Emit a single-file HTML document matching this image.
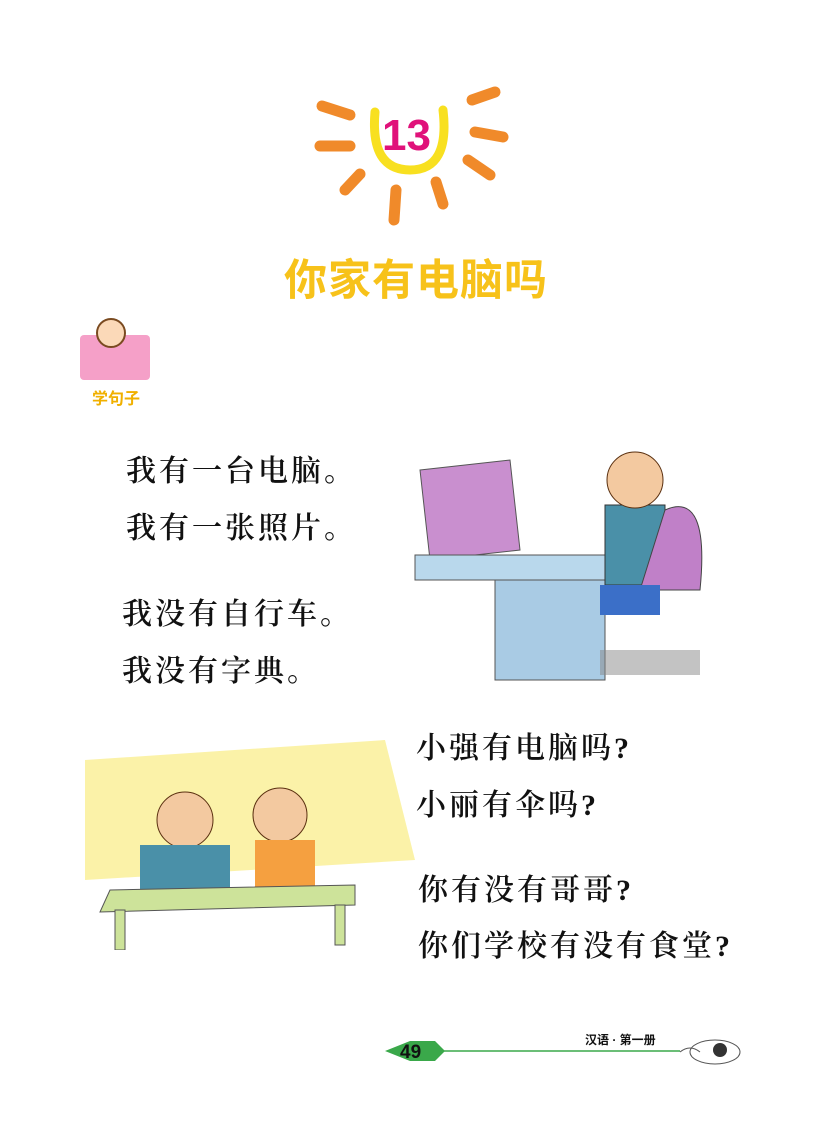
<!DOCTYPE html>
<html><head><meta charset="utf-8"><style>
body{margin:0;width:827px;height:1144px;background:#fff;position:relative;overflow:hidden;font-family:"Liberation Sans","Noto Sans CJK SC",sans-serif}
.abs{position:absolute}
.line{position:absolute;font-family:"Liberation Serif","Noto Serif CJK SC",serif;font-size:30px;color:#111;letter-spacing:3px;white-space:nowrap;font-weight:600}
</style></head><body>
<svg class="abs" style="left:300px;top:70px" width="240" height="160">
<g stroke="#f08a2a" stroke-width="11" stroke-linecap="round" fill="none">
<line x1="22" y1="36" x2="50" y2="45"/><line x1="20" y1="76" x2="50" y2="76"/><line x1="45" y1="120" x2="60" y2="104"/>
<line x1="96" y1="120" x2="94" y2="150"/><line x1="136" y1="112" x2="143" y2="134"/>
<line x1="172" y1="30" x2="195" y2="22"/><line x1="175" y1="62" x2="203" y2="67"/><line x1="168" y1="90" x2="190" y2="105"/>
</g>
<path d="M75 42 Q70 100 110 100 Q150 100 143 40" stroke="#f8e020" stroke-width="9" fill="none" stroke-linecap="round"/>
<text x="82" y="80" font-family="Liberation Sans" font-size="44" font-weight="bold" fill="#e0127a">13</text>
</svg>
<div class="abs" style="left:284px;top:246px;font-size:43px;font-weight:bold;color:#f7c21a;letter-spacing:1px">你家有电脑吗</div>
<div class="abs" style="left:80px;top:335px;width:70px;height:45px;background:#f5a0c8;border-radius:4px"></div>
<div class="abs" style="left:96px;top:318px;width:26px;height:26px;border-radius:50%;background:#fbd9b8;border:2px solid #7a4a20"></div>
<div class="abs" style="left:92px;top:385px;font-size:16px;font-weight:bold;color:#f0b000">学句子</div>
<div class="line" style="left:126px;top:446px">我有一台电脑。</div>
<div class="line" style="left:126px;top:503px">我有一张照片。</div>
<div class="line" style="left:122px;top:589px">我没有自行车。</div>
<div class="line" style="left:122px;top:646px">我没有字典。</div>
<div class="line" style="left:416px;top:723px">小强有电脑吗?</div>
<div class="line" style="left:416px;top:780px">小丽有伞吗?</div>
<div class="line" style="left:418px;top:865px">你有没有哥哥?</div>
<div class="line" style="left:418px;top:921px">你们学校有没有食堂?</div>
<svg class="abs" style="left:400px;top:430px" width="380" height="270">
<path d="M20 40 L110 30 L120 120 L30 130Z" fill="#c98fcf" stroke="#555"/>
<rect x="15" y="125" width="220" height="25" fill="#b9d8ec" stroke="#555"/>
<rect x="95" y="150" width="110" height="100" fill="#a9cbe4" stroke="#555"/>
<rect x="205" y="75" width="60" height="80" fill="#4a90a8" stroke="#333"/>
<circle cx="235" cy="50" r="28" fill="#f3c9a0" stroke="#5a3010"/>
<path d="M265 80 Q310 60 300 160 L240 160Z" fill="#c080c8" stroke="#444"/>
<rect x="200" y="155" width="60" height="30" fill="#3b6fc8"/>
<rect x="200" y="220" width="100" height="25" fill="#888" opacity=".5"/>
</svg>
<svg class="abs" style="left:85px;top:720px" width="335" height="230">
<path d="M0 40 L300 20 L330 140 L0 160Z" fill="#fbf2a8"/>
<circle cx="100" cy="100" r="28" fill="#f3c9a0" stroke="#5a3010"/>
<circle cx="195" cy="95" r="27" fill="#f3c9a0" stroke="#5a3010"/>
<rect x="55" y="125" width="90" height="55" fill="#4a90a8"/>
<rect x="170" y="120" width="60" height="60" fill="#f5a040"/>
<path d="M25 170 L270 165 L270 185 L15 192Z" fill="#cde39a" stroke="#555"/>
<rect x="30" y="190" width="10" height="40" fill="#cde39a" stroke="#555"/>
<rect x="250" y="185" width="10" height="40" fill="#cde39a" stroke="#555"/>
</svg>
<svg class="abs" style="left:380px;top:1030px" width="380" height="40">
<line x1="55" y1="21" x2="300" y2="21" stroke="#3aa84a" stroke-width="1.5"/>
<polygon points="5,21 30,11 55,11 65,21 55,31 30,31" fill="#3aa84a"/>
<text x="20" y="28" font-size="19" font-weight="bold" fill="#111">49</text>
<text x="205" y="14" font-size="12" font-weight="bold" fill="#111" font-family="Liberation Sans,Noto Sans CJK SC,sans-serif">汉语 · 第一册</text>
<ellipse cx="335" cy="22" rx="25" ry="12" fill="#fff" stroke="#555"/>
<circle cx="340" cy="20" r="7" fill="#333"/>
<path d="M300 22 q10 -8 20 0" stroke="#555" fill="none"/>
</svg>
</body></html>
